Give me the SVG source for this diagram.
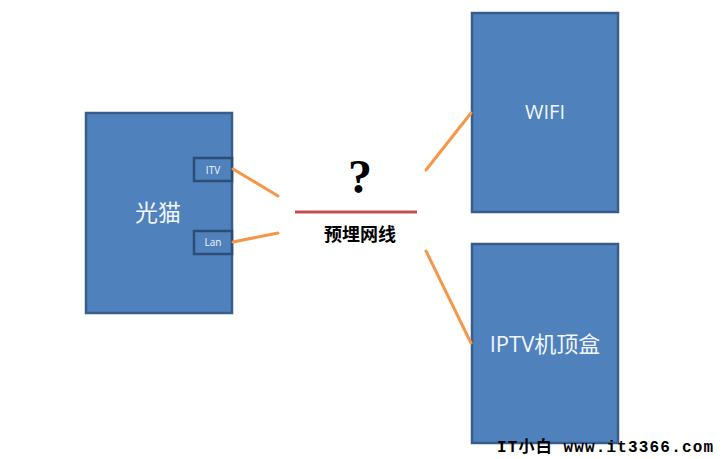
<svg xmlns="http://www.w3.org/2000/svg" width="724" height="459" viewBox="0 0 724 459">
<style>
.box{fill:#4F81BD;stroke:#385D8A;stroke-width:2.5}
.port{fill:#4F81BD;stroke:#2C4D75;stroke-width:2.5}
.lbl{fill:#F2F6FC;font-family:"Open Sans","Noto Sans CJK SC",sans-serif;text-anchor:middle}
.plbl{fill:#F2F6FC;font-family:"Open Sans",sans-serif;font-size:10px;text-anchor:middle}
.wire{stroke:#F79646;stroke-width:3;stroke-linecap:round}
</style>
<rect width="724" height="459" fill="#FFFFFF"/>
<g id="guangmao">
<rect class="box" x="86" y="113" width="146" height="200"/>
<text class="lbl" x="158" y="221" font-size="23">光猫</text>
</g>
<g id="itv">
<rect class="port" x="194" y="158" width="38" height="23"/>
<text class="plbl" x="213" y="174">ITV</text>
</g>
<g id="lan">
<rect class="port" x="194" y="231" width="38" height="23"/>
<text class="plbl" x="213" y="246">Lan</text>
</g>
<g id="wifi">
<rect class="box" x="472" y="13" width="146" height="199"/>
<text class="lbl" x="545" y="119" font-size="20">WIFI</text>
</g>
<g id="iptv">
<rect class="box" x="472" y="244" width="146" height="199"/>
<text class="lbl" x="545" y="352" font-size="22">IPTV机顶盒</text>
</g>
<g id="cable">
<line x1="295" y1="212" x2="417" y2="212" stroke="#C0504D" stroke-width="3"/>
<text x="360" y="193" font-family="Liberation Serif,serif" font-weight="bold" font-size="48" text-anchor="middle" fill="#000">?</text>
<text x="360" y="241" font-family="Liberation Serif,'Noto Sans CJK SC',serif" font-weight="bold" font-size="18" text-anchor="middle" fill="#000">预埋网线</text>
</g>
<g id="connectors">
<line class="wire" x1="233" y1="169" x2="278" y2="196"/>
<line class="wire" x1="233" y1="242" x2="278" y2="233"/>
<line class="wire" x1="426" y1="170" x2="471" y2="113"/>
<line class="wire" x1="426" y1="251" x2="471" y2="343"/>
</g>
<text x="497" y="452" font-family="Liberation Mono,'Noto Sans CJK SC',monospace" font-weight="bold" font-size="16" fill="#000" textLength="216" lengthAdjust="spacing">IT小白  www.it3366.com</text>
</svg>
